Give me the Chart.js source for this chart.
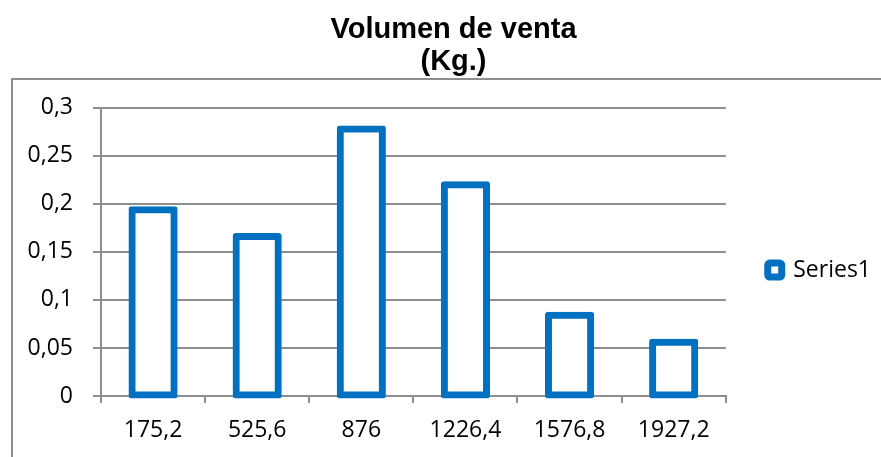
<!DOCTYPE html>
<html>
<head>
<meta charset="utf-8">
<script src="https://cdn.jsdelivr.net/npm/chart.js@4/dist/chart.umd.min.js"></script>
<style>
  html, body { margin: 0; padding: 0; background: #fff; }
  #wrap { width: 881px; height: 457px; }
</style>
</head>
<body>
<div id="wrap"><canvas id="chart"></canvas></div>
<script>
// chart data
const categories = ['175,2', '525,6', '876', '1226,4', '1576,8', '1927,2'];
const volumes = [0.194, 0.166, 0.278, 0.220, 0.084, 0.056];
const titleLines = ['Volumen de venta', '(Kg.)'];
const seriesName = 'Series1';

const blue = '#0070C0';
const gray = '#8e8e8e';

// outer frame of the chart object
const framePlugin = {
  id: 'frame',
  beforeDraw(chart) {
    const ctx = chart.ctx;
    ctx.save();
    ctx.strokeStyle = gray;
    ctx.lineWidth = 2;
    ctx.strokeRect(12, 79, 1000, 1000);
    ctx.restore();
  }
};

const ctx = document.getElementById('chart').getContext('2d');
new Chart(ctx, {
  type: 'bar',
  data: {
    labels: categories,
    datasets: [{
      label: seriesName,
      data: volumes,
      backgroundColor: '#ffffff',
      borderColor: blue,
      borderWidth: 7,
      borderSkipped: false,
      borderRadius: 3,
      inflateAmount: 3.5,
      clip: false,
      barPercentage: 0.405,
      categoryPercentage: 1
    }]
  },
  options: {
    responsive: true,
    maintainAspectRatio: false,
    animation: false,
    layout: { padding: { left: 26, right: 0, top: 0, bottom: 0 } },
    plugins: {
      title: {
        display: true,
        text: titleLines,
        color: '#000',
        font: { family: 'Liberation Sans', size: 29, weight: 'bold', lineHeight: 1.1 },
        padding: { top: 14, bottom: 30 }
      },
      legend: {
        position: 'right',
        fullSize: false,
        title: { display: true, text: '', font: { size: 12 }, padding: 11 },
        labels: {
          boxWidth: 14,
          boxHeight: 14,
          padding: 42,
          color: '#000',
          font: { family: 'Open Sans', size: 23 },
          generateLabels() {
            return [{
              text: seriesName,
              fillStyle: '#ffffff',
              strokeStyle: blue,
              fontColor: '#000',
              lineWidth: 7,
              borderRadius: 2,
              datasetIndex: 0
            }];
          }
        }
      },
      tooltip: { enabled: false }
    },
    scales: {
      x: {
        offset: true,
        afterFit(scale) { scale.height = 61; },
        grid: {
          display: true,
          offset: true,
          drawOnChartArea: false,
          drawTicks: true,
          tickLength: 7,
          color: gray,
          lineWidth: 2
        },
        border: { display: true, color: gray, width: 2 },
        ticks: {
          color: '#000',
          padding: 14,
          maxRotation: 0,
          font: { family: 'Open Sans', size: 23 }
        }
      },
      y: {
        min: 0,
        max: 0.3,
        afterFit(scale) { scale.width = 75; },
        grid: {
          color: gray,
          lineWidth: 2,
          drawTicks: true,
          tickLength: 8
        },
        border: { display: true, color: gray, width: 2 },
        ticks: {
          stepSize: 0.05,
          color: '#000',
          padding: 20,
          font: { family: 'Open Sans', size: 23 },
          callback: v => String(Math.round(v * 100) / 100).replace('.', ',')
        }
      }
    }
  },
  plugins: [framePlugin]
});
</script>
</body>
</html>
